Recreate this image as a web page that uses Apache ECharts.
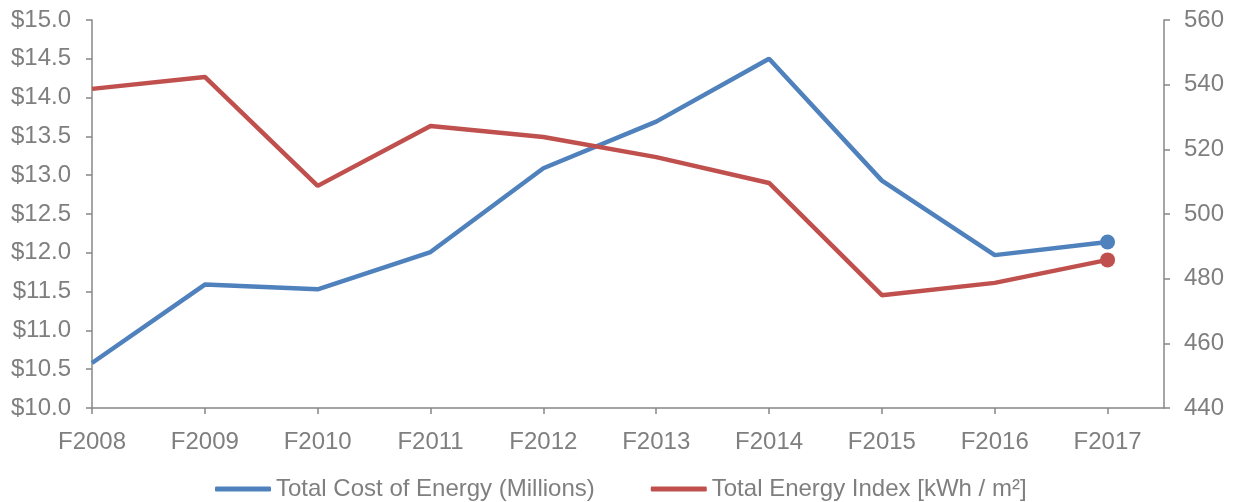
<!DOCTYPE html>
<html>
<head>
<meta charset="utf-8">
<script src="https://cdn.jsdelivr.net/npm/echarts@6/dist/echarts.min.js"></script>
<style>
  html, body { margin: 0; padding: 0; background: #fff; }
  #main { width: 1234px; height: 502px; }
</style>
</head>
<body>
<div id="main"></div>
<script>
// categories and series values
const years = ['F2008', 'F2009', 'F2010', 'F2011', 'F2012', 'F2013', 'F2014', 'F2015', 'F2016', 'F2017']
const costMillions = [10.58, 11.59, 11.53, 12.01, 13.09, 13.69, 14.50, 12.93, 11.97, 12.14]
const energyIndex = [538.7, 542.4, 508.7, 527.2, 523.8, 517.6, 509.6, 474.9, 478.7, 485.8]
const seriesNames = ['Total Cost of Energy (Millions)', 'Total Energy Index [kWh / m²]']
// tick positions (index of category) on the x axis
const yearTicks = years.map((y, i) => i)

const gray = '#7f7f7f'
const axisGray = '#878787'
const font = 'Liberation Sans, Arial, sans-serif'

// only the last point carries a dot
const lastDot = (val, params) => (params.dataIndex === years.length - 1 ? 15 : 0)

var myChart = echarts.init(document.getElementById('main'))

var option = {
  animation: false,
  color: ['#4f81bd', '#c0504d'],
  textStyle: { fontFamily: font },
  grid: { left: 92, right: 70, top: 20, bottom: 94 },
  legend: {
    top: 472,
    left: 210,
    itemWidth: 56,
    itemHeight: 5,
    itemGap: 56,
    icon: 'roundRect',
    textStyle: { color: gray, fontSize: 24, fontFamily: font },
    data: seriesNames
  },
  xAxis: {
    type: 'value',
    min: 0,
    max: 9.5,
    interval: 1,
    splitLine: { show: false },
    axisLine: { lineStyle: { color: axisGray, width: 1.5 } },
    axisTick: { customValues: yearTicks, length: 6, lineStyle: { color: axisGray, width: 1.5 } },
    axisLabel: {
      customValues: yearTicks,
      color: gray,
      fontSize: 24,
      margin: 22,
      formatter: v => years[v]
    }
  },
  yAxis: [
    {
      type: 'value',
      min: 10,
      max: 15,
      interval: 0.5,
      splitLine: { show: false },
      axisLine: { show: true, lineStyle: { color: axisGray, width: 1.5 } },
      axisTick: { show: true, length: 6, lineStyle: { color: axisGray, width: 1.5 } },
      axisLabel: {
        color: gray,
        fontSize: 24,
        margin: 21,
        formatter: v => '$' + v.toFixed(1)
      }
    },
    {
      type: 'value',
      min: 440,
      max: 560,
      interval: 20,
      splitLine: { show: false },
      axisLine: { show: true, lineStyle: { color: axisGray, width: 1.5 } },
      axisTick: { show: true, length: 6, lineStyle: { color: axisGray, width: 1.5 } },
      axisLabel: { color: gray, fontSize: 24, margin: 20 }
    }
  ],
  series: [
    {
      name: seriesNames[0],
      type: 'line',
      yAxisIndex: 0,
      symbol: 'circle',
      symbolSize: lastDot,
      lineStyle: { width: 4.5 },
      data: costMillions.map((v, i) => [i, v])
    },
    {
      name: seriesNames[1],
      type: 'line',
      yAxisIndex: 1,
      symbol: 'circle',
      symbolSize: lastDot,
      lineStyle: { width: 4.5 },
      data: energyIndex.map((v, i) => [i, v])
    }
  ]
}

myChart.setOption(option)
</script>
</body>
</html>
